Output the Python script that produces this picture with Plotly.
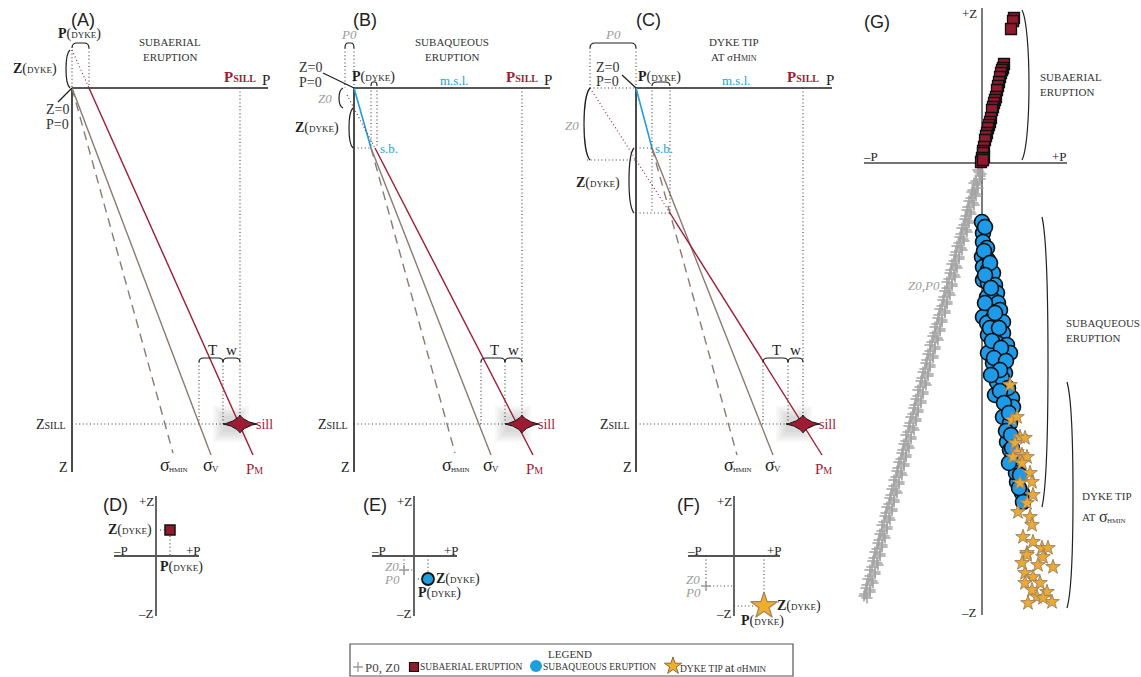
import numpy as np
import plotly.graph_objects as go

W, H = 1141, 677

RED = "#9E1C33"
TAUPE = "#8A7A73"
BLUE = "#1E9FDC"
GREY = "#9B9B9B"
INK = "#1E1E1E"
DOT = "#3A3A3A"
SERIF = "Liberation Serif"
SANS = "Liberation Sans"

# ======================= DATA (diagram units) =======================
# Panels A-C : pressure P to the right, depth Z downwards (Z=0 at surface / m.s.l.)
P_AXIS_LEN = 196
Z_AXIS_LEN = 384
P_SILL = [168, 168, 167]
Z_SILL = [336, 336, 336]
T_W_BOUNDS = [[127, 151, 168], [127, 151, 168], [127, 152, 167]]
T_W_DEPTH = 274

# (A) subaerial eruption
A_SIGMA_HMIN = ([0, 101], [0, 365])
A_SIGMA_V = ([0, 139], [0, 367])
A_PM = ([17, 181], [0, 367])
A_PM_ABOVE = ([0, 17], [-38, 0])
A_P_DYKE = 17
A_Z_DYKE = -38

# (B) subaqueous eruption
B_WATER = ([0, 17], [0, 60])
B_SIGMA_HMIN = ([17, 101], [60, 365])
B_SIGMA_V = ([17, 137], [60, 367])
B_PM = ([21, 179], [60, 367])
B_PM_ABOVE = ([-7, 21], [7, 60])
B_P0 = -9
B_Z0 = 20
B_P_DYKE = [17, 23]
B_Z_SB = 60

# (C) dyke tip at sigma_Hmin
C_WATER = ([0, 16], [0, 60])
C_SIGMA_HMIN = ([16, 101], [60, 367])
C_SIGMA_V = ([16, 137], [60, 367])
C_PM = ([34, 186], [125, 367])
C_PM_ABOVE = ([-46, 34], [0, 125])
C_P0 = -46
C_Z0 = 72
C_P_DYKE = [16, 34]
C_Z_SB = 60
C_Z_TIP = 125

# Panels D-F : P to the right, Z upwards
D_DYKE = (14, 26)
E_DYKE = (14, -23)
E_P0Z0 = (-10, -14)
F_DYKE = (30, -50)
F_P0Z0 = (-28, -30)

# Panel G : compilation
G_SUBAERIAL_P = [32, 31, 29, 22, 21, 20, 19, 18, 17, 16, 15, 14, 13, 12, 11, 10, 9, 8, 7, 6,
                 5, 4, 3, 2, 2, 1, 1, 0, 0, -1, 1]
G_SUBAERIAL_Z = [145, 142, 134, 99, 95, 93, 90, 86, 81, 77, 73, 66, 63, 60, 56, 53, 45, 41, 38, 35,
                 30, 27, 23, 16, 6, 12, 10, 5, 3, 1, 3]
G_SUBAQ_P = [0, 1, 1, 5, 0, 6, 1, 6, 11, 1, 6, 13, 15, 5, 11, 16, 18, 6, 1, 11,
             21, 5, 6, 21, 15, 25, 6, 16, 28, 11, 21, 23, 15, 20, 13, 30, 31, 21, 28, 25,
             28, 31, 33, 35, 40, 41, 3, 2, 8, 3, 9, 3, 13, 8, 17, 10,
             19, 12, 24, 18, 9, 26, 18, 22, 27, 24, 29, 30, 34, 37, 38, 27]
G_SUBAQ_Z = [-59, -70, -79, -85, -94, -97, -104, -107, -110, -117, -120, -122, -130, -134, -137, -140, -147, -147, -154, -155,
             -159, -160, -172, -170, -180, -182, -190, -194, -190, -200, -204, -210, -219, -215, -232, -235, -244, -254, -260, -279,
             -287, -294, -302, -319, -330, -339, -64, -88, -100, -112, -125, -140, -150, -165, -165, -178,
             -185, -195, -198, -207, -212, -225, -228, -240, -250, -268, -272, -285, -310, -325, -312, -300]
G_TIP_P = [28, 30, 35, 38, 43, 33, 35, 40, 45, 31, 40, 48, 50, 38, 51, 45, 36, 48, 50, 41,
           51, 60, 66, 45, 61, 71, 56, 43, 51, 58, 43, 50, 65, 55, 70, 46, 61, 45, 40]
G_TIP_Z = [-222, -257, -254, -274, -275, -280, -289, -292, -294, -294, -300, -310, -319, -320, -332, -340, -349, -354, -362, -374,
           -379, -385, -385, -390, -394, -404, -402, -410, -414, -420, -420, -427, -429, -434, -439, -440, -435, -392, -400]
G_P0_A = [-1, -3, -2, -6, -5, -9, -7, -11, -9, -14, -12, -16, -14, -18, -16, -21, -19, -23, -21, -26,
          -23, -28, -26, -31, -28, -33, -30, -35, -33, -38, -35, -40, -37, -43, -40, -45, -42, -47, -45, -50,
          -47, -52, -49, -55, -52, -57, -54, -60, -57, -62, -59, -64, -61, -67, -64, -69, -66, -72, -69, -74,
          -71, -76, -74, -79, -76, -81, -78, -84, -81, -86, -83, -88, -86, -91, -88, -93, -90, -96, -93, -98,
          -95, -100, -98, -103, -100, -105, -102, -108, -105, -110, -107, -112, -110, -115, -112, -117, -115]
G_Z0_A = [-4, -9, -13, -18, -22, -27, -31, -35, -40, -44, -49, -53, -58, -62, -67, -71, -76, -80, -85, -89,
          -94, -98, -103, -107, -112, -116, -121, -125, -130, -134, -139, -143, -148, -152, -157, -161, -166, -170, -175, -179,
          -184, -188, -193, -197, -202, -206, -211, -215, -220, -224, -229, -233, -238, -242, -247, -251, -256, -260, -265, -269,
          -274, -278, -283, -287, -292, -296, -301, -305, -310, -314, -319, -323, -328, -332, -337, -341, -346, -350, -355, -359,
          -364, -368, -373, -377, -382, -386, -391, -395, -400, -404, -409, -413, -418, -422, -427, -431, -435]
G_P0_B = [0, -4, -1, -2, -8, -4, -10, -6, -13, -8, -15, -11, -17, -13, -20, -15, -22, -18, -25, -20,
          -27, -23, -30, -25, -32, -27, -35, -30, -37, -32, -39, -35, -42, -37, -44, -40, -47, -42, -49, -44,
          -52, -47, -54, -49, -56, -52, -59, -54, -61, -56, -64, -59, -66, -61, -68, -64, -71, -66, -73, -68,
          -76, -71, -78, -73, -80, -76, -83, -78, -85, -80, -88, -83, -90, -85, -92, -88, -95, -90, -97, -92,
          -100, -95, -102, -97, -104, -100, -107, -102, -109, -104, -112, -107, -114, -109, -116, -112, -118]
G_Z0_B = [-2, -7, -11, -16, -20, -25, -29, -33, -38, -42, -47, -51, -56, -60, -65, -69, -74, -78, -83, -87,
          -92, -96, -101, -105, -110, -114, -119, -123, -128, -132, -137, -141, -146, -150, -155, -159, -164, -168, -173, -177,
          -182, -186, -191, -195, -200, -204, -209, -213, -218, -222, -227, -231, -236, -240, -245, -249, -254, -258, -263, -267,
          -272, -276, -281, -285, -290, -294, -299, -303, -308, -312, -317, -321, -326, -330, -335, -339, -344, -348, -353, -357,
          -362, -366, -371, -375, -380, -384, -389, -393, -398, -402, -407, -411, -416, -420, -425, -429, -433]
G_RANGES = {"subaerial": (153, 3), "subaqueous": (-54, -344), "tip": (-219, -445)}

LEGEND_LABELS = ["P0, Z0", "SUBAERIAL ERUPTION", "SUBAQUEOUS ERUPTION", "DYKE TIP"]

# ======================= FIGURE =======================
fig = go.Figure()
shapes, annos = [], []


def axes(i, box, origin, zdown):
    x0, x1, y0, y1 = box
    ox, oy = origin
    s = "" if i == 1 else str(i)
    yr = [y1 - oy, y0 - oy] if zdown else [oy - y1, oy - y0]
    fig.update_layout(**{
        f"xaxis{s}": dict(domain=[x0 / W, x1 / W], range=[x0 - ox, x1 - ox], visible=False,
                          fixedrange=True, anchor=f"y{s}"),
        f"yaxis{s}": dict(domain=[1 - y1 / H, 1 - y0 / H], range=yr, visible=False,
                          fixedrange=True, anchor=f"x{s}"),
    })
    return (f"x{s}", f"y{s}")


def line(ax, xs, ys, color=INK, width=1.5, dash=None):
    fig.add_trace(go.Scatter(x=list(xs), y=list(ys), mode="lines", xaxis=ax[0], yaxis=ax[1],
                             line=dict(color=color, width=width, dash=dash),
                             hoverinfo="skip", showlegend=False))


def dotted(ax, xs, ys, color=DOT):
    line(ax, xs, ys, color, 1.1, "1px,2.6px")


def path(ax, d, color=INK, width=1.2):
    shapes.append(dict(type="path", path=d, xref=ax[0], yref=ax[1], line=dict(color=color, width=width)))


def arch(x0, x1, z, h, sign=-1):
    top = z + sign * h
    d = min(5, (x1 - x0) / 3)
    return f"M{x0},{z} Q{x0},{top} {x0 + d},{top} L{x1 - d},{top} Q{x1},{top} {x1},{z}"


def paren(x, z0, z1, bulge):
    c = bulge / 0.75
    L = z1 - z0
    return f"M{x},{z0} C{x + c},{z0 + 0.12 * L} {x + c},{z1 - 0.12 * L} {x},{z1}"


def text(ax, x, y, s, size=13, color=INK, family=SERIF, xa="center", ya="middle"):
    annos.append(dict(x=x, y=y, xref=ax[0], yref=ax[1], text=s, showarrow=False,
                      font=dict(size=size, color=color, family=family), xanchor=xa, yanchor=ya,
                      borderpad=0, borderwidth=0))


def sc(big, small, ssize=9, bold=False):
    b = f"<b>{big}</b>" if bold else big
    return f"{b}(<span style='font-size:{ssize}px'>{small}</span>)"


def sigma(ax, x, y, sub, sub_size, dz, color=INK, size=18):
    """sigma with a small-caps subscript, dz = offset (data units) towards the bottom"""
    text(ax, x, y, "σ", size, color, xa="right")
    text(ax, x - 1, y + dz, sub, sub_size, color, xa="left")


def sill(ax, p, z):
    fig.add_trace(go.Scatter(x=[p - 9] * 5, y=[z] * 5, mode="markers", xaxis=ax[0], yaxis=ax[1],
                             marker=dict(symbol="square", size=[36, 31, 26, 21, 16],
                                         color="rgba(80,80,80,0.07)", line=dict(width=0)),
                             hoverinfo="skip", showlegend=False))
    t = np.linspace(0, 2 * np.pi, 161)
    c, s = np.cos(t), np.sin(t)
    xs = p + 17 * np.sign(c) * np.abs(c) ** 2.8
    ys = z + 9 * np.sign(s) * np.abs(s) ** 2.8
    fig.add_trace(go.Scatter(x=xs, y=ys, mode="lines", fill="toself", fillcolor=RED,
                             xaxis=ax[0], yaxis=ax[1], line=dict(color="#111", width=1),
                             hoverinfo="skip", showlegend=False))


def profile(ax, k, hmin, sv, pm):
    psill, zsill = P_SILL[k], Z_SILL[k]
    line(ax, [0, P_AXIS_LEN], [0, 0], INK, 1.6)
    line(ax, [0, 0], [0, Z_AXIS_LEN], INK, 1.6)
    text(ax, P_AXIS_LEN - 2, -8, "P", 15)
    text(ax, psill, -11, "<b>P<span style='font-size:10px'>SILL</span></b>", 15, RED)
    dotted(ax, [psill, psill], [0, zsill])
    dotted(ax, [0, psill], [zsill, zsill])
    text(ax, -6, zsill, "Z<span style='font-size:10px'>SILL</span>", 14, xa="right")
    text(ax, -9, 379, "Z", 14)
    t0, t1, t2 = T_W_BOUNDS[k]
    dotted(ax, [t0, t0], [T_W_DEPTH, zsill])
    dotted(ax, [t1, t1], [T_W_DEPTH, zsill])
    path(ax, arch(t0, t1, T_W_DEPTH, 4))
    path(ax, arch(t1, t2, T_W_DEPTH, 4))
    text(ax, (t0 + t1) / 2 + 1, 262, "T", 15)
    text(ax, (t1 + t2) / 2, 262, "w", 15)
    line(ax, *hmin, TAUPE, 1.4, "9px,6px")
    line(ax, *sv, TAUPE, 1.4)
    line(ax, *pm, RED, 1.4)
    sill(ax, psill, zsill)
    text(ax, psill + 16, zsill, "sill", 14, RED, xa="left")
    sigma(ax, hmin[0][1] - 3, 377, "HMIN", 7, 5)
    sigma(ax, sv[0][1] + 2, 377, "V", 9, 4)
    text(ax, pm[0][1] + 1, 381, "P<span style='font-size:10px'>M</span>", 15, RED)


# ---------------- Panel A ----------------
ax = axes(1, (0, 290, 0, 485), (72, 88), True)
profile(ax, 0, A_SIGMA_HMIN, A_SIGMA_V, A_PM)
dotted(ax, [0, 0], [A_Z_DYKE, 0])
dotted(ax, [A_P_DYKE, A_P_DYKE], [-40, 0])
dotted(ax, *A_PM_ABOVE, color=RED)
path(ax, arch(0, A_P_DYKE, -40, 5))
path(ax, paren(-2, A_Z_DYKE, 0, -4))
line(ax, [0, -14], [0, 14], INK, 1.2)
text(ax, 11, -68, "(A)", 18, "#222", SANS)
text(ax, 7, -54, sc("P", "DYKE", 9, True), 14)
text(ax, -37, -19, sc("Z", "DYKE", 9, True), 14)
text(ax, -15, 21, "Z=0", 14, "#333")
text(ax, -15, 36, "P=0", 14, "#333")
text(ax, 98, -46, "SUBAERIAL", 11, "#333")
text(ax, 98, -31, "ERUPTION", 11, "#333")

# ---------------- Panel B ----------------
ax = axes(2, (290, 570, 0, 485), (354, 88), True)
profile(ax, 1, B_SIGMA_HMIN, B_SIGMA_V, B_PM)
line(ax, *B_WATER, BLUE, 1.6)
dotted(ax, *B_PM_ABOVE, color=RED)
dotted(ax, [B_P0, B_P0], [-40, 0])
dotted(ax, [0, 0], [-40, 0])
path(ax, arch(B_P0, 0, -40, 5))
dotted(ax, [B_P_DYKE[0]] * 2, [-1, B_Z_SB])
dotted(ax, [B_P_DYKE[1]] * 2, [-1, B_Z_SB])
path(ax, arch(B_P_DYKE[0], B_P_DYKE[1], -2, 4))
dotted(ax, [0, B_P_DYKE[0]], [B_Z_SB, B_Z_SB])
path(ax, paren(-11, 0, B_Z0, -4))
path(ax, paren(-1, B_Z0, B_Z_SB, -4))
line(ax, [0, -31], [0, -15], INK, 1.2)
text(ax, 11, -68, "(B)", 18, "#222", SANS)
text(ax, -5, -54, "<i>P0</i>", 13, GREY)
text(ax, -44, -21, "Z=0", 14, "#333")
text(ax, -44, -6, "P=0", 14, "#333")
text(ax, 19, -11, sc("P", "DYKE", 9, True), 14)
text(ax, -29, 10, "<i>Z0</i>", 13, GREY)
text(ax, -37, 40, sc("Z", "DYKE", 9, True), 14)
text(ax, 26, B_Z_SB, "s.b.", 13, BLUE, xa="left")
text(ax, 100, -8, "m.s.l.", 13, BLUE)
text(ax, 98, -46, "SUBAQUEOUS", 11, "#333")
text(ax, 98, -31, "ERUPTION", 11, "#333")

# ---------------- Panel C ----------------
ax = axes(3, (570, 850, 0, 485), (636, 88), True)
profile(ax, 2, C_SIGMA_HMIN, C_SIGMA_V, C_PM)
line(ax, *C_WATER, BLUE, 1.6)
dotted(ax, *C_PM_ABOVE, color=RED)
dotted(ax, [C_P0, C_P0], [-40, 0])
dotted(ax, [0, 0], [-40, 0])
dotted(ax, [C_P0, 0], [0, 0])
path(ax, arch(C_P0, 0, -40, 5))
dotted(ax, [C_P_DYKE[0]] * 2, [-1, C_Z_TIP])
dotted(ax, [C_P_DYKE[1]] * 2, [-1, C_Z_TIP])
path(ax, arch(C_P_DYKE[0], C_P_DYKE[1], -2, 4))
dotted(ax, [0, C_P_DYKE[0]], [C_Z_SB, C_Z_SB])
dotted(ax, [0, C_P_DYKE[1]], [C_Z_TIP, C_Z_TIP])
dotted(ax, [C_P0 - 3, 0], [C_Z0, C_Z0])
path(ax, paren(C_P0, 0, C_Z0, -6))
path(ax, paren(-2, C_Z_SB, C_Z_TIP, -5))
line(ax, [0, -14], [0, -13], INK, 1.2)
text(ax, 12, -68, "(C)", 18, "#222", SANS)
text(ax, -23, -54, "<i>P0</i>", 13, GREY)
text(ax, -29, -21, "Z=0", 14, "#333")
text(ax, -29, -7, "P=0", 14, "#333")
text(ax, 23, -11, sc("P", "DYKE", 9, True), 14)
text(ax, -64, 37, "<i>Z0</i>", 13, GREY)
text(ax, -38, 95, sc("Z", "DYKE", 9, True), 14)
text(ax, 19, C_Z_SB, "s.b.", 13, BLUE, xa="left")
text(ax, 100, -8, "m.s.l.", 13, BLUE)
text(ax, 98, -46, "DYKE TIP", 11, "#333")
text(ax, 98, -31, "AT σH<span style='font-size:8px'>MIN</span>", 11, "#333")


# ---------------- Panels D-F ----------------
def small_axes(ax, plo, phi, lab, lab_x):
    line(ax, [plo, phi], [0, 0], "#555", 1.8)
    line(ax, [0, 0], [60, -60], "#555", 1.8)
    text(ax, lab_x, 51, lab, 18, "#222", SANS)
    text(ax, -2, 55, "+Z", 13, xa="right")
    text(ax, -2, -57, "–Z", 13, xa="right")
    text(ax, plo + 6, 6, "–P", 13)
    text(ax, phi - 6, 6, "+P", 13)


def mk(ax, x, y, symbol, size, color, lcolor, lw):
    fig.add_trace(go.Scatter(x=x, y=y, mode="markers", xaxis=ax[0], yaxis=ax[1],
                             marker=dict(symbol=symbol, size=size, color=color,
                                         line=dict(color=lcolor, width=lw)),
                             hoverinfo="skip", showlegend=False))


ax = axes(4, (100, 260, 490, 640), (156, 556), False)
small_axes(ax, -42, 43, "(D)", -41)
dotted(ax, [4, 9], [D_DYKE[1]] * 2)
dotted(ax, [D_DYKE[0]] * 2, [D_DYKE[1] - 6, 0])
mk(ax, [D_DYKE[0]], [D_DYKE[1]], "square", 10, "#8E1B2E", "#111", 1.5)
text(ax, -4, D_DYKE[1], sc("Z", "DYKE", 9, True), 14, xa="right")
text(ax, 25, -11, sc("P", "DYKE", 9, True), 14)

ax = axes(5, (360, 520, 490, 640), (414, 556), False)
small_axes(ax, -42, 43, "(E)", -39)
dotted(ax, [E_P0Z0[0]] * 2, [0, E_P0Z0[1]])
dotted(ax, [E_P0Z0[0], 0], [E_P0Z0[1]] * 2)
dotted(ax, [E_DYKE[0]] * 2, [0, E_DYKE[1] + 7])
dotted(ax, [4, 8], [E_DYKE[1]] * 2)
mk(ax, [E_P0Z0[0]], [E_P0Z0[1]], "cross-thin", 7, GREY, GREY, 1.5)
mk(ax, [E_DYKE[0]], [E_DYKE[1]], "circle", 12, BLUE, "#111", 1.8)
text(ax, -22, -10, "<i>Z0</i>", 13, GREY)
text(ax, -22, -23, "<i>P0</i>", 13, GREY)
text(ax, 22, E_DYKE[1], sc("Z", "DYKE", 9, True), 14, xa="left")
text(ax, 25, -37, sc("P", "DYKE", 9, True), 14)

ax = axes(6, (680, 850, 490, 640), (734, 556), False)
small_axes(ax, -46, 46, "(F)", -46)
dotted(ax, [F_P0Z0[0]] * 2, [0, F_P0Z0[1]])
dotted(ax, [F_P0Z0[0], 0], [F_P0Z0[1]] * 2)
dotted(ax, [F_DYKE[0]] * 2, [0, F_DYKE[1] + 8])
dotted(ax, [0, 20], [F_DYKE[1]] * 2)
mk(ax, [F_P0Z0[0]], [F_P0Z0[1]], "cross-thin", 7, GREY, GREY, 1.5)
mk(ax, [F_DYKE[0]], [F_DYKE[1]], "star", 20, "#EFAE2C", "#A5845C", 1.2)
text(ax, -41, -23, "<i>Z0</i>", 13, GREY)
text(ax, -41, -36, "<i>P0</i>", 13, GREY)
text(ax, 43, F_DYKE[1], sc("Z", "DYKE", 9, True), 14, xa="left")
text(ax, 28, -65, sc("P", "DYKE", 9, True), 14)

# ---------------- Panel G ----------------
ax = axes(7, (850, 1141, 0, 640), (982, 163), False)
line(ax, [-118, 85], [0, 0], "#444", 1.6)
line(ax, [0, 0], [155, -452], "#222", 1.2)
text(ax, -105, 141, "(G)", 18, "#222", SANS)
text(ax, -5, 150, "+Z", 13, xa="right")
text(ax, -5, -449, "–Z", 13, xa="right")
text(ax, -111, 7, "–P", 13)
text(ax, 77, 7, "+P", 13)
mk(ax, G_P0_A + G_P0_B, G_Z0_A + G_Z0_B, "cross-thin", 8, "#A3A3A3", "#A3A3A3", 1.6)
mk(ax, G_SUBAERIAL_P, G_SUBAERIAL_Z, "square", 11, "#8E1B2E", "#111", 1.3)
mk(ax, G_SUBAQ_P, G_SUBAQ_Z, "circle", 15, "#1E9BE8", "#111", 1.6)
mk(ax, G_TIP_P, G_TIP_Z, "star", 11, "#EBAA33", "#A5845C", 1)
path(ax, paren(40, *G_RANGES["subaerial"], 7), "#222", 1.2)
path(ax, paren(60, *G_RANGES["subaqueous"], 6), "#222", 1.2)
path(ax, paren(85, *G_RANGES["tip"], 6), "#222", 1.2)
text(ax, 58, 86, "SUBAERIAL", 11, "#333", xa="left")
text(ax, 58, 71, "ERUPTION", 11, "#333", xa="left")
text(ax, 84, -160, "SUBAQUEOUS", 11, "#333", xa="left")
text(ax, 84, -175, "ERUPTION", 11, "#333", xa="left")
text(ax, 100, -333, "DYKE TIP", 11, "#333", xa="left")
text(ax, 100, -354, "AT", 11, "#333", xa="left")
sigma(ax, 126, -353, "HMIN", 7, -5, "#333", 16)
text(ax, -58, -122, "<i>Z0,P0</i>", 13, GREY)

# ---------------- Legend box ----------------
ax = axes(8, (350, 793, 644, 676), (350, 676), False)
shapes.append(dict(type="rect", xref="paper", yref="paper", x0=350 / W, x1=793 / W,
                   y0=1 - 676 / H, y1=1 - 644 / H, line=dict(color="#555", width=1.2)))
text(ax, 220, 22, "LEGEND", 11, "#333")
mk(ax, [8], [9], "cross-thin", 7, GREY, GREY, 1.3)
text(ax, 15, 9, LEGEND_LABELS[0], 13, "#444", xa="left")
mk(ax, [64], [9], "square", 9, "#8E1B2E", "#111", 1.2)
text(ax, 70, 9, LEGEND_LABELS[1], 9.5, "#333", xa="left")
mk(ax, [186], [10], "circle", 12, BLUE, BLUE, 0)
text(ax, 193, 9, LEGEND_LABELS[2], 9.5, "#333", xa="left")
mk(ax, [323], [10], "star", 13, "#EFAE2C", "#8A6A3C", 1)
text(ax, 330, 9, LEGEND_LABELS[3] + " <span style='font-size:13px'>at</span> σH<span style='font-size:9px'>MIN</span>",
     9.5, "#333", xa="left")

fig.update_layout(width=W, height=H, margin=dict(l=0, r=0, t=0, b=0), paper_bgcolor="white",
                  plot_bgcolor="rgba(0,0,0,0)", showlegend=False, shapes=shapes, annotations=annos,
                  font=dict(family=SERIF, color=INK), hovermode=False)

fig.write_html("out.html", include_plotlyjs=True, config={"displayModeBar": False},
               post_script="document.body.style.margin='0';")
